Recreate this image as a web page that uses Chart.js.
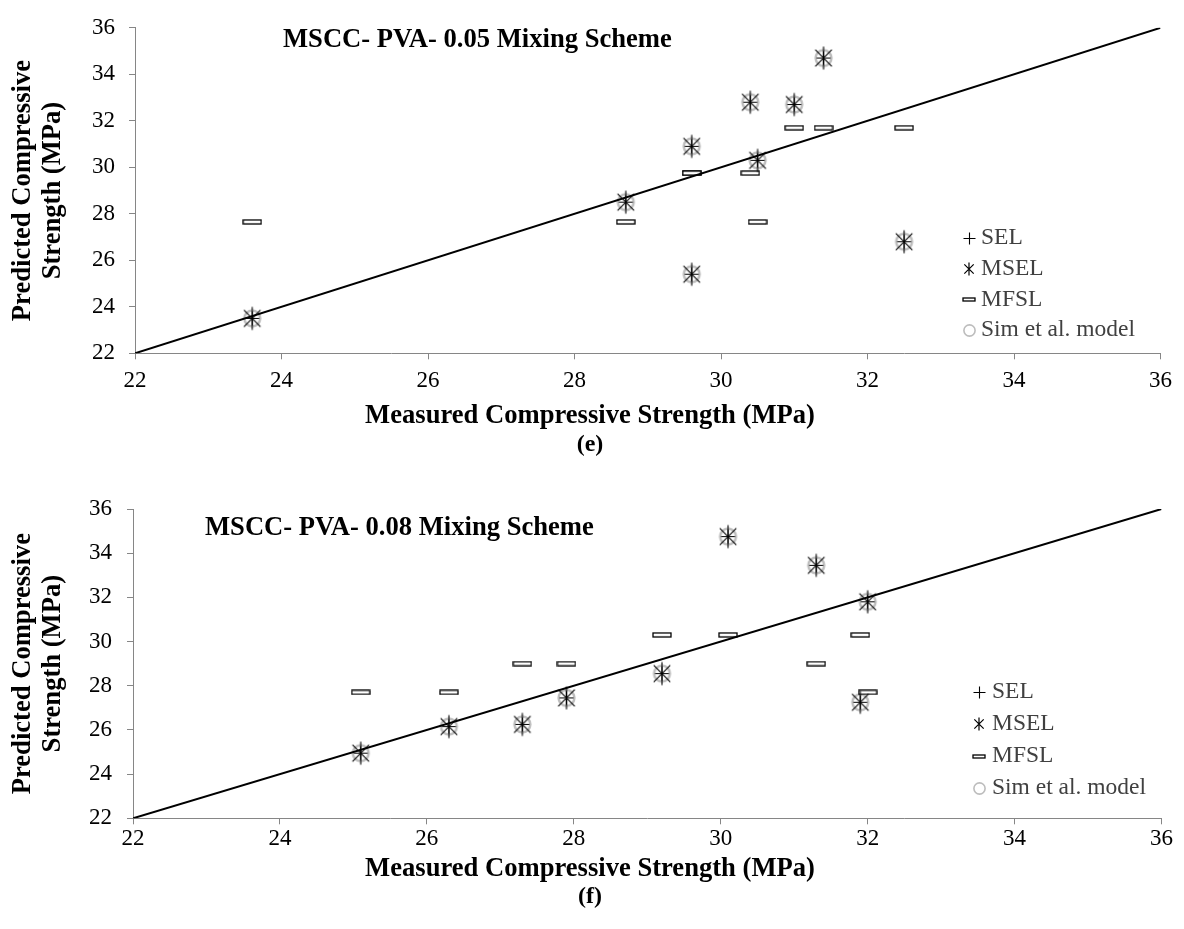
<!DOCTYPE html>
<html>
<head>
<meta charset="utf-8">
<script src="https://cdn.jsdelivr.net/npm/chart.js@4.4.1/dist/chart.umd.min.js"></script>
<style>
  html, body { margin: 0; padding: 0; background: #fff; }
  #fig { position: relative; width: 1184px; height: 929px; font-family: "Liberation Serif", "Times New Roman", serif; color: #000; }
  .panel { position: absolute; left: 0; width: 1184px; }
  .panel canvas { position: absolute; left: 0; top: 0; }
  .inner-title { position: absolute; font-size: 26.6px; line-height: 30px; font-weight: bold; white-space: nowrap; }
  .xtitle, .cap { position: absolute; left: 0; width: 1180px; text-align: center; font-weight: bold; white-space: nowrap; }
  .xtitle { font-size: 26.6px; line-height: 30px; }
  .cap { font-size: 24px; line-height: 28px; }
</style>
</head>
<body>
<div id="fig">
  <div class="panel" style="top:0;height:470px">
    <canvas id="chartE" width="1184" height="470"></canvas>
    <div class="inner-title" style="left:283px;top:22.7px">MSCC- PVA- 0.05 Mixing Scheme</div>
    <div class="xtitle" style="top:399px">Measured Compressive Strength (MPa)</div>
    <div class="cap" style="top:428.5px">(e)</div>
  </div>
  <div class="panel" style="top:470px;height:459px">
    <canvas id="chartF" width="1184" height="459"></canvas>
    <div class="inner-title" style="left:205px;top:41px">MSCC- PVA- 0.08 Mixing Scheme</div>
    <div class="xtitle" style="top:381.5px">Measured Compressive Strength (MPa)</div>
    <div class="cap" style="top:411px">(f)</div>
  </div>
</div>
<script>
// axis
const tickValues = [22, 24, 26, 28, 30, 32, 34, 36];
const diagonal = [22, 36];

// (e) MSCC-PVA-0.05
const measuredE = [23.6, 28.7, 29.6, 29.6, 30.4, 30.5, 31.0, 31.4, 32.5];
const selE = [23.5, 28.5, 30.9, 25.4, 32.8, 30.3, 32.7, 34.7, 26.8];
const mselE = [23.5, 28.5, 30.9, 25.4, 32.8, 30.3, 32.7, 34.7, 26.8];
const mfslE = [27.65, 27.65, 29.75, 29.75, 29.75, 27.65, 31.7, 31.7, 31.7];
const simE = [23.5, 28.5, 30.9, 25.4, 32.8, 30.3, 32.7, 34.7, 26.8];

// (f) MSCC-PVA-0.08
const measuredF = [25.1, 26.3, 27.3, 27.9, 29.2, 30.1, 31.3, 31.9, 32.0];
const selF = [24.95, 26.15, 26.25, 27.45, 28.55, 34.75, 33.45, 27.25, 31.8];
const mselF = [24.95, 26.15, 26.25, 27.45, 28.55, 34.75, 33.45, 27.25, 31.8];
const mfslF = [27.7, 27.7, 29.0, 29.0, 30.3, 30.3, 29.0, 30.3, 27.7];
const simF = [24.95, 26.15, 26.25, 27.45, 28.55, 34.75, 33.45, 27.25, 31.8];

const serif = "'Liberation Serif', 'Times New Roman', serif";
const axisGray = '#868686';

// marker images
function markerCanvas(w, h, draw) {
  const c = document.createElement('canvas');
  c.width = w; c.height = h;
  draw(c.getContext('2d'), w / 2, h / 2);
  return c;
}
function plus(r, lw) {
  return markerCanvas(2 * r + 3, 2 * r + 3, (g, cx, cy) => {
    g.strokeStyle = '#000'; g.lineWidth = lw;
    g.beginPath();
    g.moveTo(cx - r, cy); g.lineTo(cx + r, cy);
    g.moveTo(cx, cy - r); g.lineTo(cx, cy + r);
    g.stroke();
  });
}
function asterisk(r, lw) {
  const d = r * 0.72;
  return markerCanvas(2 * r + 3, 2 * r + 3, (g, cx, cy) => {
    g.strokeStyle = '#000'; g.lineWidth = lw;
    g.beginPath();
    g.moveTo(cx - d, cy - d); g.lineTo(cx + d, cy + d);
    g.moveTo(cx + d, cy - d); g.lineTo(cx - d, cy + d);
    g.moveTo(cx, cy - r); g.lineTo(cx, cy + r);
    g.stroke();
  });
}
function bar(w, h) {
  return markerCanvas(w + 2, h + 2, g => {
    g.fillStyle = '#fff'; g.fillRect(1, 1, w, h);
    g.strokeStyle = '#000'; g.lineWidth = 1.3; g.strokeRect(1, 1, w, h);
  });
}
function ring(r, lw) {
  const s = Math.ceil(2 * r + lw + 2);
  return markerCanvas(s, s, (g, cx, cy) => {
    g.strokeStyle = '#bdbdbd'; g.lineWidth = lw;
    g.beginPath(); g.arc(cx, cy, r, 0, Math.PI * 2); g.stroke();
  });
}

const pts = (xs, ys) => xs.map((x, i) => ({ x: x, y: ys[i] }));

const cornerLegend = {
  id: 'cornerLegend',
  afterDraw(chart, args, opts) {
    const ctx = chart.ctx;
    ctx.save();
    ctx.font = opts.font;
    ctx.fillStyle = opts.color;
    ctx.textBaseline = 'middle';
    ctx.textAlign = 'left';
    chart.data.datasets.filter(d => d.legendIcon).forEach((d, i) => {
      const y = opts.y + i * opts.rowHeight;
      const icon = d.legendIcon;
      ctx.drawImage(icon, Math.round(opts.x - icon.width / 2), Math.round(y - icon.height / 2));
      ctx.fillText(d.label, opts.textX, y);
    });
    ctx.restore();
  }
};

function makeChart(id, cfg) {
  const tickFont = { family: serif, size: 23 };
  return new Chart(document.getElementById(id), {
    type: 'scatter',
    data: {
      datasets: [
        { label: 'SEL', data: pts(cfg.measured, cfg.sel), pointStyle: plus(7, 1), pointRadius: 5, legendIcon: plus(6, 1.1) },
        { label: 'MSEL', data: pts(cfg.measured, cfg.msel), pointStyle: asterisk(11.5, 1.1), pointRadius: 5, legendIcon: asterisk(6.5, 1.2) },
        { label: 'MFSL', data: pts(cfg.measured, cfg.mfsl), pointStyle: bar(18, 4), pointRadius: 5, legendIcon: bar(12, 3) },
        { label: 'Sim et al. model', data: pts(cfg.measured, cfg.sim), pointStyle: ring(7.9, 2.5), pointRadius: 5, legendIcon: ring(5.6, 1.6) },
        { label: 'y = x', data: pts(diagonal, diagonal), showLine: true, borderColor: '#000', borderWidth: 2, pointRadius: 0, order: -1 }
      ]
    },
    options: {
      responsive: false,
      animation: false,
      devicePixelRatio: 1,
      layout: { padding: { top: cfg.top, right: cfg.right, left: 0, bottom: 0 } },
      plugins: {
        legend: { display: false },
        tooltip: { enabled: false },
        cornerLegend: { x: cfg.legendX, textX: cfg.legendTextX, y: cfg.legendY, rowHeight: cfg.legendRow, font: '23.5px ' + serif, color: '#404040' }
      },
      scales: {
        x: {
          type: 'linear', min: 22, max: 36,
          afterBuildTicks: s => { s.ticks = tickValues.map(v => ({ value: v })); },
          afterFit: s => { s.height = cfg.xHeight; },
          border: { display: true, color: axisGray, width: 1 },
          grid: { display: true, drawOnChartArea: false, drawTicks: true, tickLength: 6, color: axisGray },
          ticks: { font: tickFont, color: '#000', padding: cfg.xPad, maxRotation: 0, autoSkip: false }
        },
        y: {
          type: 'linear', min: 22, max: 36,
          afterBuildTicks: s => { s.ticks = tickValues.map(v => ({ value: v })); },
          afterFit: s => { s.width = cfg.yWidth; },
          border: { display: true, color: axisGray, width: 1 },
          grid: { display: true, drawOnChartArea: false, drawTicks: true, tickLength: 6, color: axisGray },
          ticks: { font: tickFont, color: '#000', padding: cfg.yPad, autoSkip: false },
          title: {
            display: true,
            text: ['Predicted Compressive', 'Strength (MPa)'],
            color: '#000',
            font: { family: serif, size: 26.6, weight: 'bold', lineHeight: 1.13 },
            padding: { top: 7.7, bottom: 0 }
          }
        }
      }
    },
    plugins: [cornerLegend]
  });
}

makeChart('chartE', {
  measured: measuredE, sel: selE, msel: mselE, mfsl: mfslE, sim: simE,
  top: 17.3, right: 23.5, xHeight: 116.7, yWidth: 135, xPad: 8, yPad: 14,
  legendX: 969, legendTextX: 981, legendY: 238, legendRow: 30.7
});
makeChart('chartF', {
  measured: measuredF, sel: selF, msel: mselF, mfsl: mfslF, sim: simF,
  top: 39, right: 22.5, xHeight: 110.7, yWidth: 133, xPad: 1, yPad: 15,
  legendX: 979, legendTextX: 992, legendY: 222, legendRow: 32.1
});
</script>
</body>
</html>
